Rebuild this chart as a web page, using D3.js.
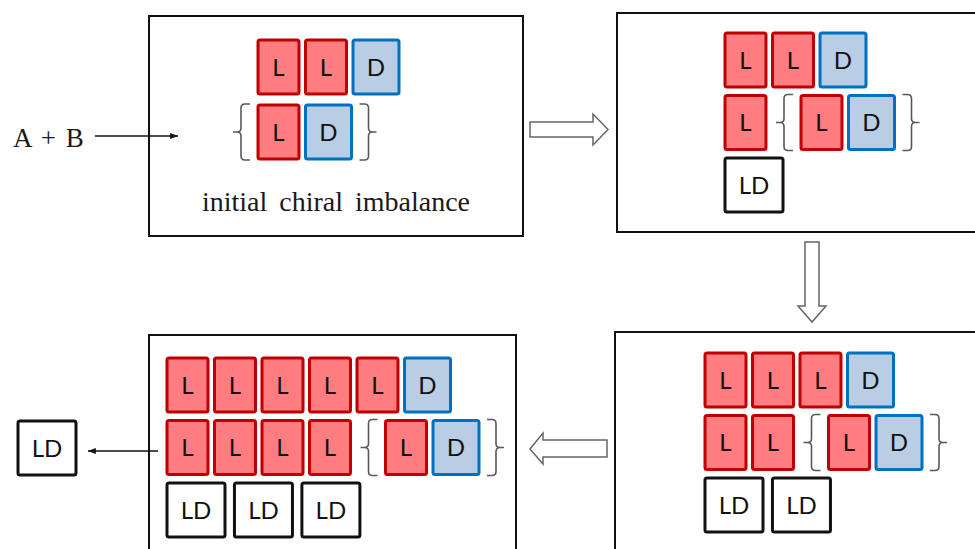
<!DOCTYPE html>
<html>
<head>
<script src="https://d3js.org/d3.v7.min.js"></script>
<style>
    body { margin: 0; background: #fff; }
    .tile-text { font-family: Lato, "Liberation Sans", sans-serif; font-size: 24px; text-anchor: middle; fill: #111; }
    .serif { font-family: "Liberation Serif", "DejaVu Serif", serif; fill: #1a1a1a; }
</style>
</head>
<body>
<div id="chart"></div>
<script>
// rows of each stage, read left to right ("{" and "}" are the braces round the pair)
const stage1 = [["L","L","D"], ["{","L","D","}"]]
const stage2 = [["L","L","D"], ["L","{","L","D","}"], ["LD"]]
const stage3 = [["L","L","L","D"], ["L","L","{","L","D","}"], ["LD","LD"]]
const stage4 = [["L","L","L","L","L","D"], ["L","L","L","L","{","L","D","}"], ["LD","LD","LD"]]
const released = "LD"
const reactants = "A + B"
const caption = "initial chiral imbalance"

const w = 975
const h = 549
const pitch = 47.5
const rowGap = 62.5
const tileW = {L: 41, D: 46, LD: 58}
const tileH = 54
const advance = {L: 1, D: 1, LD: 1.42, "{": 0.6, "}": 0}
const colours = {
    L: {fill: "#ff7c80", stroke: "#c00000"},
    D: {fill: "#b9cde5", stroke: "#0070c0"},
    LD: {fill: "#ffffff", stroke: "#111111"}
}

const panels = [
    {rows: stage1, frame: [149, 16, 374, 220], origin: [258, 40], gap: 65},
    {rows: stage2, frame: [617, 13, 372, 219], origin: [725, 33], gap: rowGap},
    {rows: stage3, frame: [615, 332, 374, 230], origin: [705, 353], gap: rowGap},
    {rows: stage4, frame: [149, 335, 367, 230], origin: [167, 358], gap: rowGap}
]

const svg = d3.select("#chart").append("svg")
    .attr("width", w)
    .attr("height", h)

function drawTile(g, type, x, y){
    const tw = tileW[type]
    g.append("rect")
        .attr("x", x).attr("y", y)
        .attr("width", tw).attr("height", tileH)
        .attr("rx", 2)
        .attr("fill", colours[type].fill)
        .attr("stroke", colours[type].stroke)
        .attr("stroke-width", 3)
    g.append("text")
        .attr("class", "tile-text")
        .attr("x", x + tw / 2)
        .attr("y", y + tileH / 2 + 8.5)
        .text(type)
}

function bracePath(xe, xv, xt, top, bot){
    const mid = (top + bot) / 2
    const s = Math.sign(xe - xv)
    return `M${xe},${top} L${xv + 4 * s},${top} Q${xv},${top} ${xv},${top + 4} L${xv},${mid - 4} Q${xv},${mid} ${xv - 4 * s},${mid} L${xt},${mid}` +
           ` M${xv - 4 * s},${mid} Q${xv},${mid} ${xv},${mid + 4} L${xv},${bot - 4} Q${xv},${bot} ${xv + 4 * s},${bot} L${xe},${bot}`
}

panels.forEach(p => {
    const [fx, fy, fw, fh] = p.frame
    svg.append("rect")
        .attr("x", fx).attr("y", fy)
        .attr("width", fw).attr("height", fh)
        .attr("fill", "none")
        .attr("stroke", "#111")
        .attr("stroke-width", 2)

    const x = d3.scaleLinear().domain([0, 1]).range([p.origin[0], p.origin[0] + pitch])
    const y = d3.scaleLinear().domain([0, 1]).range([p.origin[1], p.origin[1] + p.gap])
    const g = svg.append("g")

    p.rows.forEach((row, ri) => {
        let cursor = row[0] === "{" ? -advance["{"] : 0
        let lastEnd = 0
        const top = y(ri)
        row.forEach(tok => {
            if(tok === "{"){
                const x0 = x(cursor + advance["{"])
                g.append("path")
                    .attr("d", bracePath(x0 - 8, x0 - 17, x0 - 25, top - 1, top + tileH + 1))
                    .attr("fill", "none").attr("stroke", "#595959").attr("stroke-width", 1.6)
                cursor += advance["{"]
            } else if(tok === "}"){
                g.append("path")
                    .attr("d", bracePath(lastEnd + 8, lastEnd + 17, lastEnd + 25, top - 1, top + tileH + 1))
                    .attr("fill", "none").attr("stroke", "#595959").attr("stroke-width", 1.6)
            } else {
                drawTile(g, tok, x(cursor), top)
                lastEnd = x(cursor) + tileW[tok]
                cursor += advance[tok]
            }
        })
    })
})

// caption of the first stage
svg.append("text")
    .attr("class", "serif")
    .attr("x", 336).attr("y", 211)
    .attr("text-anchor", "middle")
    .style("font-size", "28px")
    .style("word-spacing", "5px")
    .text(caption)

// reactants feeding in
svg.append("text")
    .attr("class", "serif")
    .attr("x", 13).attr("y", 147)
    .style("font-size", "27px")
    .style("word-spacing", "3px")
    .text(reactants)

svg.append("defs").append("marker")
    .attr("id", "head")
    .attr("viewBox", "0 0 10 10")
    .attr("refX", 10).attr("refY", 5)
    .attr("markerWidth", 6).attr("markerHeight", 6)
    .attr("orient", "auto")
    .append("path")
    .attr("d", "M0,1 L10,5 L0,9 Z")
    .attr("fill", "#111")

svg.append("line")
    .attr("x1", 95).attr("y1", 136)
    .attr("x2", 178).attr("y2", 136)
    .attr("stroke", "#111").attr("stroke-width", 1.3)
    .attr("marker-end", "url(#head)")

// released LD
drawTile(svg, released, 18, 421)
svg.append("line")
    .attr("x1", 158).attr("y1", 451)
    .attr("x2", 88).attr("y2", 451)
    .attr("stroke", "#111").attr("stroke-width", 1.3)
    .attr("marker-end", "url(#head)")

// hollow block arrows between stages
const hollow = [
    [[530,122],[593,122],[593,114],[608,129.5],[593,145],[593,137],[530,137]],
    [[805,242],[819,242],[819,306],[826,306],[812,322],[798,306],[805,306]],
    [[607,440],[543,440],[543,433],[530,449],[543,464],[543,457],[607,457]]
]
svg.selectAll(".hollow")
    .data(hollow)
    .join("path")
    .attr("class", "hollow")
    .attr("d", d => d3.line()(d) + "Z")
    .attr("fill", "#fff")
    .attr("stroke", "#666")
    .attr("stroke-width", 1.5)
    .attr("stroke-linejoin", "miter")
</script>
</body>
</html>
